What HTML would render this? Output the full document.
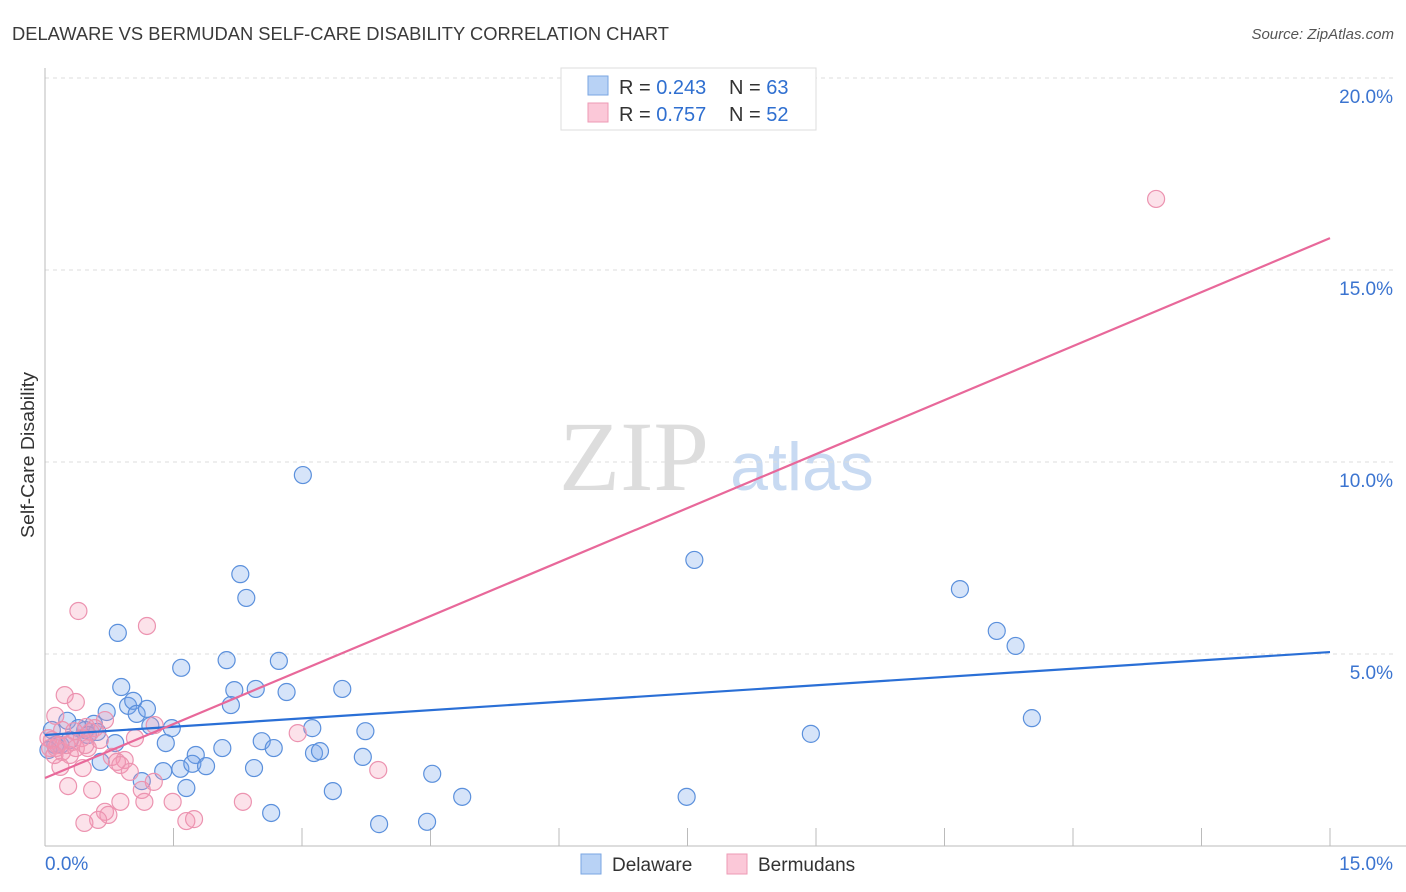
<!DOCTYPE html>
<html><head><meta charset="utf-8"><style>
body{margin:0;background:#fff;font-family:"Liberation Sans",sans-serif}
svg{display:block}
</style></head><body>
<svg width="1406" height="892">
<text x="12" y="40" font-size="18" fill="#3a3a3a" textLength="657" lengthAdjust="spacingAndGlyphs">DELAWARE VS BERMUDAN SELF-CARE DISABILITY CORRELATION CHART</text>
<text x="1394" y="39" font-size="15" fill="#555" font-style="italic" text-anchor="end">Source: ZipAtlas.com</text>
<text x="634" y="490" font-size="100" fill="#ddd" font-family="Liberation Serif,serif" text-anchor="middle">ZIP</text>
<text x="802" y="490" font-size="68" fill="#c8daf2" text-anchor="middle">atlas</text>
<g id="grid"></g>
<g id="axes"></g>
<g id="pts"></g>
<g id="lines"></g>
<text transform="translate(34,455) rotate(-90)" font-size="18" fill="#333" text-anchor="middle" textLength="166" lengthAdjust="spacingAndGlyphs">Self-Care Disability</text>
<g>
<rect x="561" y="68" width="255" height="62" fill="#fff" stroke="#ddd"/>
<rect x="588" y="76" width="20" height="19" fill="#b8d2f5" stroke="#7aa6e2"/>
<text x="619" y="94" font-size="20" fill="#333">R = <tspan fill="#2f6fd0">0.243</tspan></text>
<text x="729" y="94" font-size="20" fill="#333">N = <tspan fill="#2f6fd0">63</tspan></text>
<rect x="588" y="103" width="20" height="19" fill="#fbc8d8" stroke="#ee9ab5"/>
<text x="619" y="121" font-size="20" fill="#333">R = <tspan fill="#2f6fd0">0.757</tspan></text>
<text x="729" y="121" font-size="20" fill="#333">N = <tspan fill="#2f6fd0">52</tspan></text>
</g>
<g>
<rect x="581" y="854" width="20" height="20" fill="#b8d2f5" stroke="#7aa6e2"/>
<text x="612" y="871" font-size="19" fill="#333">Delaware</text>
<rect x="727" y="854" width="20" height="20" fill="#fbc8d8" stroke="#ee9ab5"/>
<text x="758" y="871" font-size="19" fill="#333">Bermudans</text>
</g>
</svg>
<script>
const yTicks=[5,10,15,20];
const yTickLabels=["5.0%","10.0%","15.0%","20.0%"];
const xTicks=[1.5,3,4.5,6,7.5,9,10.5,12,13.5,15];
const delX=[3.01,7.58,2.28,2.35,10.68,0.85,11.11,11.33,1.59,2.12,2.73,0.89,2.21,2.46,2.82,3.47,2.17,0.97,1.03,0.72,1.07,1.19,11.52,0.08,0.26,0.39,0.47,0.57,0.61,1.23,1.48,3.12,3.74,8.94,0.82,1.41,1.76,2.07,2.53,2.67,3.14,3.21,3.71,0.65,0.18,1.38,1.58,1.72,1.88,2.44,1.13,1.65,3.36,4.52,4.87,7.49,2.64,3.90,4.46,0.12,0.29,0.50,0.04];
const delY=[9.66,7.45,7.08,6.46,6.69,5.55,5.60,5.21,4.64,4.84,4.82,4.14,4.06,4.09,4.01,4.09,3.67,3.65,3.78,3.49,3.44,3.57,3.33,3.02,3.26,3.07,3.02,3.18,2.97,3.13,3.07,3.07,2.99,2.92,2.68,2.68,2.37,2.55,2.73,2.55,2.42,2.47,2.32,2.19,2.63,1.95,2.01,2.14,2.08,2.03,1.69,1.51,1.43,1.88,1.28,1.28,0.86,0.57,0.63,2.63,2.76,2.89,2.50];
const berX=[12.97,0.39,1.19,0.23,0.36,0.12,0.70,1.28,0.48,0.34,0.58,0.43,0.15,0.06,0.20,0.29,0.50,0.78,0.93,1.05,0.18,0.44,0.84,0.88,0.99,2.95,3.89,0.27,0.55,1.13,1.27,1.49,0.88,1.16,0.70,0.74,0.62,0.46,1.65,1.74,2.31,0.08,0.13,0.25,0.32,0.36,0.64,0.53,0.20,0.04,0.11,0.47];
const berY=[16.85,6.12,5.73,3.93,3.75,3.39,3.28,3.15,3.10,2.99,3.07,2.81,2.63,2.55,2.45,2.37,2.55,2.32,2.24,2.81,2.06,2.03,2.19,2.11,1.93,2.94,1.98,1.56,1.46,1.46,1.67,1.15,1.15,1.15,0.89,0.81,0.68,0.60,0.65,0.70,1.15,2.76,2.55,2.63,2.71,2.55,2.76,2.97,3.02,2.81,2.37,2.63];
const delTrend=[2.89,5.05];
const berTrend=[1.77,15.83];
const X0=45,X1=1330,Y0=846,PXY=38.4;
const sx=v=>X0+v/15*(X1-X0), sy=v=>Y0-v*PXY;
const NS="http://www.w3.org/2000/svg";
function mk(t,a,p){const e=document.createElementNS(NS,t);for(const k in a)e.setAttribute(k,a[k]);p.appendChild(e);return e;}
const grid=document.getElementById('grid'),axes=document.getElementById('axes'),pts=document.getElementById('pts'),lines=document.getElementById('lines');
yTicks.forEach((v,i)=>{
 const l=mk('line',{x1:45,x2:1394,y1:sy(v),y2:sy(v),stroke:'#ddd','stroke-dasharray':'4,4'},grid);
 
 
 const t=mk('text',{x:1393,y:sy(v)+25,'font-size':19,fill:'#3b74d0','text-anchor':'end'},grid);
 t.textContent=yTickLabels[i];
 
 
});
let a=mk('line',{x1:45,x2:45,y1:68,y2:846,stroke:'#bbb'},axes);


a=mk('line',{x1:45,x2:1406,y1:846,y2:846,stroke:'#bbb'},axes);


xTicks.forEach(v=>{const t=mk('line',{x1:sx(v),x2:sx(v),y1:828,y2:846,stroke:'#bbb'},axes);
 
 });
let xl=mk('text',{x:45,y:870,'font-size':19,fill:'#3b74d0'},axes);xl.textContent='0.0%';


xl=mk('text',{x:1393,y:870,'font-size':19,fill:'#3b74d0','text-anchor':'end'},axes);xl.textContent='15.0%';


delX.forEach((v,i)=>{const c=mk('circle',{cx:sx(v),cy:sy(delY[i]),r:8.5,fill:'rgba(120,165,235,0.3)',stroke:'#5b90dc','stroke-width':1.2},pts);
 
 });
berX.forEach((v,i)=>{const c=mk('circle',{cx:sx(v),cy:sy(berY[i]),r:8.5,fill:'rgba(245,150,180,0.28)',stroke:'#ec93b0','stroke-width':1.2},pts);
 
 });
let tl=mk('line',{x1:sx(0),x2:sx(15),y1:sy(delTrend[0]),y2:sy(delTrend[1]),stroke:'#2a6fd6','stroke-width':2.2},lines);


tl=mk('line',{x1:sx(0),x2:sx(15),y1:sy(berTrend[0]),y2:sy(berTrend[1]),stroke:'#e8689a','stroke-width':2.2},lines);


</script>
</body></html>
